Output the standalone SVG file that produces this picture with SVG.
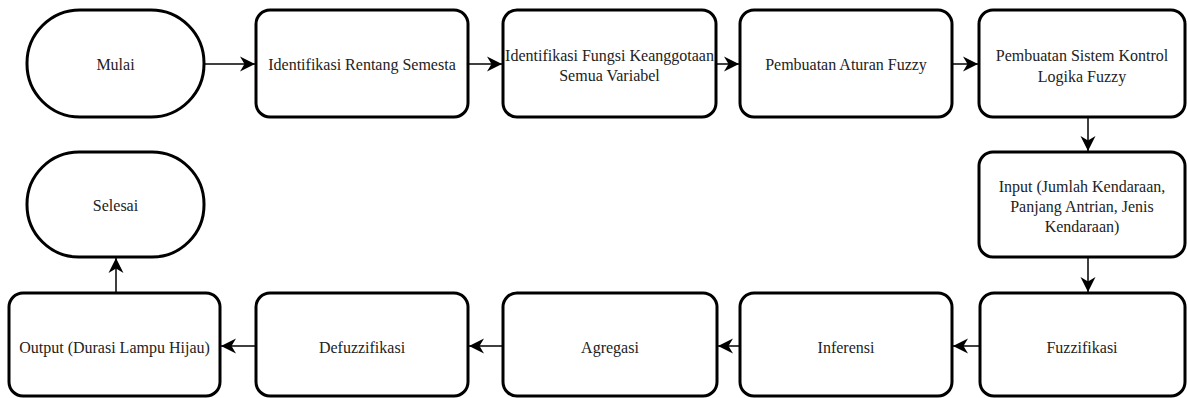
<svg xmlns="http://www.w3.org/2000/svg" width="1187" height="398" viewBox="0 0 1187 398">
<defs>
<style>
.box{fill:#fff;stroke:#000;stroke-width:3}
.t{font-family:'Liberation Serif','Times New Roman',Tinos,'DejaVu Serif',serif;font-size:16px;fill:#222;text-anchor:middle;dominant-baseline:central}
.c{stroke:#000;stroke-width:1.5;fill:none}
</style>
<marker id="ah" markerUnits="userSpaceOnUse" markerWidth="16" markerHeight="16" viewBox="0 0 16 16" refX="15" refY="8" orient="auto">
<path d="M0,0.5 L15,8 L0,15.5 L4.5,8 Z" fill="#000"/>
</marker>
</defs>
<g id="connectors">
<line class="c" x1="204" y1="64" x2="255" y2="64" marker-end="url(#ah)"/>
<line class="c" x1="468" y1="64" x2="502" y2="64" marker-end="url(#ah)"/>
<line class="c" x1="716" y1="64" x2="739" y2="64" marker-end="url(#ah)"/>
<line class="c" x1="952" y1="64" x2="978" y2="64" marker-end="url(#ah)"/>
<line class="c" x1="1088" y1="117" x2="1088" y2="151" marker-end="url(#ah)"/>
<line class="c" x1="1088" y1="257" x2="1088" y2="292" marker-end="url(#ah)"/>
<line class="c" x1="980" y1="346" x2="953" y2="346" marker-end="url(#ah)"/>
<line class="c" x1="740" y1="346" x2="718" y2="346" marker-end="url(#ah)"/>
<line class="c" x1="503" y1="346" x2="469" y2="346" marker-end="url(#ah)"/>
<line class="c" x1="256" y1="346" x2="221" y2="346" marker-end="url(#ah)"/>
<line class="c" x1="116" y1="293" x2="116" y2="258" marker-end="url(#ah)"/>
</g>
<g id="n1"><rect class="box" x="27" y="10" width="177" height="107" rx="53" ry="53"/><text class="t" font-family="Liberation Serif, serif" x="115.5" y="64">Mulai</text></g>
<g id="n2"><rect class="box" x="256" y="10" width="212" height="107" rx="14"/><text class="t" x="362" y="64">Identifikasi Rentang Semesta</text></g>
<g id="n3"><rect class="box" x="503" y="10" width="213" height="107" rx="14"/><text class="t" x="609.5" y="55">Identifikasi Fungsi Keanggotaan</text><text class="t" x="609.5" y="75">Semua Variabel</text></g>
<g id="n4"><rect class="box" x="740" y="10" width="212" height="107" rx="14"/><text class="t" x="846" y="64">Pembuatan Aturan Fuzzy</text></g>
<g id="n5"><rect class="box" x="979" y="10" width="206" height="107" rx="14"/><text class="t" x="1082" y="55">Pembuatan Sistem Kontrol</text><text class="t" x="1082" y="76">Logika Fuzzy</text></g>
<g id="n6"><rect class="box" x="979" y="152" width="206" height="105" rx="14"/><text class="t" x="1082" y="186">Input (Jumlah Kendaraan,</text><text class="t" x="1082" y="206">Panjang Antrian, Jenis</text><text class="t" x="1082" y="226">Kendaraan)</text></g>
<g id="n7"><rect class="box" x="980" y="293" width="205" height="103" rx="14"/><text class="t" x="1082" y="347">Fuzzifikasi</text></g>
<g id="n8"><rect class="box" x="740" y="293" width="212" height="103" rx="14"/><text class="t" x="846" y="347">Inferensi</text></g>
<g id="n9"><rect class="box" x="503" y="293" width="214" height="103" rx="14"/><text class="t" x="610" y="347">Agregasi</text></g>
<g id="n10"><rect class="box" x="256" y="293" width="212" height="103" rx="14"/><text class="t" x="362" y="347">Defuzzifikasi</text></g>
<g id="n11"><rect class="box" x="9" y="293" width="211" height="103" rx="14"/><text class="t" x="114.5" y="347">Output (Durasi Lampu Hijau)</text></g>
<g id="n12"><rect class="box" x="27" y="152" width="177" height="105" rx="52" ry="52"/><text class="t" x="115.5" y="205">Selesai</text></g>
</svg>
